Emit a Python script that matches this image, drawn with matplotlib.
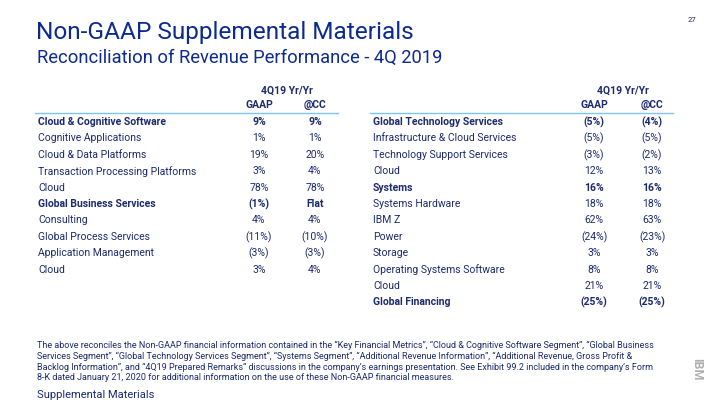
"""IBM 4Q19 Non-GAAP revenue reconciliation slide."""
import matplotlib
matplotlib.use('Agg')
import matplotlib.pyplot as plt

plt.rcParams['font.family'] = ['Roboto', 'DejaVu Sans']

# Left table
left_labels = ['Cloud & Cognitive Software', 'Cognitive Applications', 'Cloud & Data Platforms',
               'Transaction Processing Platforms', 'Cloud', 'Global Business Services',
               'Consulting', 'Global Process Services', 'Application Management', 'Cloud']
left_gaap = ['9%', '1%', '19%', '3%', '78%', '(1%)', '4%', '(11%)', '(3%)', '3%']
left_cc = ['9%', '1%', '20%', '4%', '78%', 'Flat', '4%', '(10%)', '(3%)', '4%']
left_bold = [True, False, False, False, False, True, False, False, False, False]

# Right table
right_labels = ['Global Technology Services', 'Infrastructure & Cloud Services',
                'Technology Support Services', 'Cloud', 'Systems', 'Systems Hardware',
                'IBM Z', 'Power', 'Storage', 'Operating Systems Software', 'Cloud',
                'Global Financing']
right_gaap = ['(5%)', '(5%)', '(3%)', '12%', '16%', '18%', '62%', '(24%)', '3%', '8%', '21%', '(25%)']
right_cc = ['(4%)', '(5%)', '(2%)', '13%', '16%', '18%', '63%', '(23%)', '3%', '8%', '21%', '(25%)']
right_bold = [True, False, False, False, True, False, False, False, False, False, False, True]

col_header = '4Q19 Yr/Yr'
col_names = ['GAAP', '@CC']

footnote = ('The above reconciles the Non-GAAP financial information contained in the \u201cKey Financial Metrics\u201d, '
            '\u201cCloud & Cognitive Software Segment\u201d, \u201cGlobal Business\n'
            'Services Segment\u201d, \u201cGlobal Technology Services Segment\u201d, \u201cSystems Segment\u201d, '
            '\u201cAdditional Revenue Information\u201d, \u201cAdditional Revenue, Gross Profit &\n'
            'Backlog Information\u201d, and \u201c4Q19 Prepared Remarks\u201d discussions in the company\u2019s earnings '
            'presentation. See Exhibit 99.2 included in the company\u2019s Form\n'
            '8-K dated January 21, 2020 for additional information on the use of these Non-GAAP financial measures.')

W, H = 720, 405
TITLE = '#0d2b8f'
TXT = '#1c2a6e'
LINE = '#7cc4f5'
FS = 7.5

fig = plt.figure(figsize=(7.2, 4.05), dpi=100)
fig.patch.set_facecolor('white')
ax = fig.add_axes([0, 0, 1, 1])
ax.set_xlim(0, W)
ax.set_ylim(H, 0)
ax.axis('off')

ax.text(36, 33, 'Non-GAAP Supplemental Materials', fontsize=17.6, color=TITLE, va='center', ha='left')
ax.text(37, 58, 'Reconciliation of Revenue Performance - 4Q 2019', fontsize=13.2, color=TITLE,
        va='center', ha='left')
ax.text(692, 20, '27', fontsize=5.5, color=TXT, va='center', ha='center')


def draw_table(x0, x1, xg, xc, labels, gaap, cc, bold):
    ax.text((xg + xc) / 2, 91, col_header, fontsize=FS, color=TXT, weight='bold', ha='center', va='center')
    ax.text(xg, 105, col_names[0], fontsize=FS, color=TXT, weight='bold', ha='center', va='center')
    ax.text(xc, 105, col_names[1], fontsize=FS, color=TXT, weight='bold', ha='center', va='center')
    ax.plot([x0, x1], [112.5, 112.5], color=LINE, lw=1)
    for i, (lab, g, c, b) in enumerate(zip(labels, gaap, cc, bold)):
        y = 122 + i * 16.4
        w = 'bold' if b else 'normal'
        ax.text(x0 + 3, y, lab, fontsize=FS, color=TXT, weight=w, ha='left', va='center')
        ax.text(xg, y, g, fontsize=FS, color=TXT, weight=w, ha='center', va='center')
        ax.text(xc, y, c, fontsize=FS, color=TXT, weight=w, ha='center', va='center')


draw_table(35, 338, 259, 315, left_labels, left_gaap, left_cc, left_bold)
draw_table(370, 673, 594, 652, right_labels, right_gaap, right_cc, right_bold)

ax.text(37, 341, footnote, fontsize=6.5, color=TXT, ha='left', va='top', linespacing=1.22)
ax.text(37, 395, 'Supplemental Materials', fontsize=8, color=TXT, ha='left', va='center')
ax.text(697, 369, 'IBM', fontsize=9, color='#b0b0b0', weight='bold', rotation=270,
        ha='center', va='center')

fig.savefig('out.png', dpi=100, facecolor='white')
